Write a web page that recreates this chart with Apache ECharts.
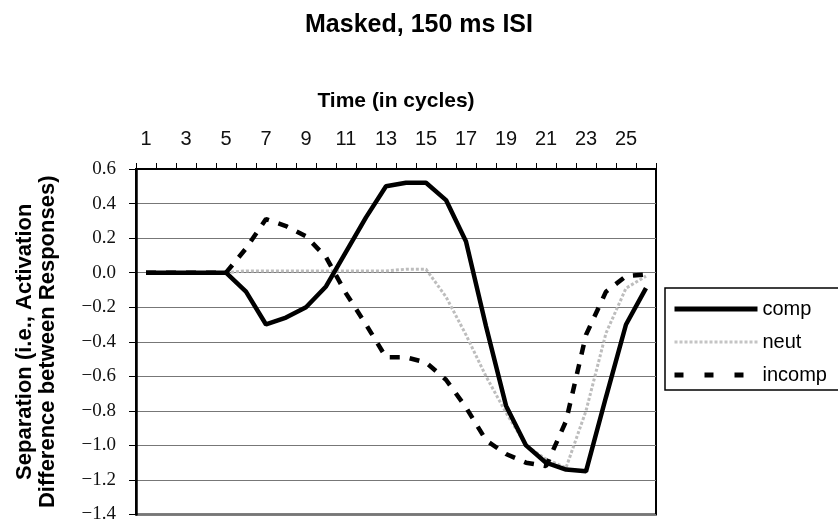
<!DOCTYPE html>
<html>
<head>
<meta charset="utf-8">
<script src="https://cdn.jsdelivr.net/npm/echarts@6/dist/echarts.min.js"></script>
<style>
  html, body { margin: 0; padding: 0; background: #fff; }
  #chart { width: 838px; height: 524px; }
</style>
</head>
<body>
<div id="chart"></div>
<script>
// time steps 1..26
const cycles = ['1','2','3','4','5','6','7','8','9','10','11','12','13','14','15','16','17','18','19','20','21','22','23','24','25','26']
const comp = [0, 0, 0, 0, 0, -0.11, -0.30, -0.26, -0.20, -0.08, 0.12, 0.32, 0.50, 0.52, 0.52, 0.42, 0.18, -0.31, -0.77, -1.00, -1.10, -1.14, -1.15, -0.72, -0.30, -0.09]
const neut = [0, 0, 0, 0, 0, 0.01, 0.01, 0.01, 0.01, 0.01, 0.01, 0.01, 0.01, 0.02, 0.02, -0.14, -0.36, -0.60, -0.81, -1.00, -1.08, -1.13, -0.80, -0.35, -0.09, -0.02]
const incomp = [0, 0, 0, 0, 0, 0.14, 0.31, 0.27, 0.21, 0.09, -0.12, -0.30, -0.49, -0.49, -0.52, -0.62, -0.78, -0.97, -1.05, -1.10, -1.12, -0.86, -0.36, -0.11, -0.02, -0.01]

const sans = 'Arial, Liberation Sans, sans-serif'
const chart = echarts.init(document.getElementById('chart'))
chart.setOption({
  animation: false,
  backgroundColor: '#fff',
  title: {
    text: 'Masked, 150 ms ISI',
    left: 'center',
    top: 8,
    textStyle: { fontFamily: sans, fontWeight: 'bold', fontSize: 25, color: '#000' }
  },
  legend: {
    orient: 'vertical',
    left: 665,
    top: 288,
    itemWidth: 83,
    itemHeight: 14,
    itemGap: 13,
    padding: [11, 40, 5, 7],
    borderColor: '#000',
    borderWidth: 1.5,
    data: [
      { name: 'comp', lineStyle: { width: 5, color: '#000' } },
      { name: 'neut', lineStyle: { width: 3, color: '#c4c4c4', type: [3, 2] } },
      { name: 'incomp', lineStyle: { width: 5, color: '#000', type: [9, 21] } }
    ],
    itemStyle: { opacity: 0 },
    textStyle: { fontFamily: sans, fontSize: 20, color: '#000' }
  },
  grid: {
    left: 136,
    right: 182,
    top: 169,
    bottom: 8,
    show: true,
    borderColor: '#000',
    borderWidth: 2
  },
  xAxis: {
    type: 'category',
    position: 'top',
    data: cycles,
    boundaryGap: true,
    name: 'Time (in cycles)',
    nameLocation: 'middle',
    nameGap: 57,
    nameTextStyle: { fontFamily: sans, fontWeight: 'bold', fontSize: 21, color: '#000' },
    axisLine: { show: true, onZero: false, lineStyle: { color: '#000', width: 2 } },
    axisTick: { show: true, interval: 0, length: 6, lineStyle: { color: '#000', width: 1 } },
    axisLabel: { interval: 1, margin: 20, fontFamily: sans, fontSize: 20, color: '#111' },
    splitLine: { show: false }
  },
  yAxis: {
    type: 'value',
    min: -1.4,
    max: 0.6,
    interval: 0.2,
    name: 'Separation (i.e., Activation\nDifference between Responses)',
    nameLocation: 'middle',
    nameGap: 77,
    nameTextStyle: { fontFamily: sans, fontWeight: 'bold', fontSize: 22, color: '#000', lineHeight: 23 },
    axisLine: { show: true, lineStyle: { color: '#000', width: 2.5 } },
    axisTick: { show: true, length: 7, lineStyle: { color: '#000' } },
    axisLabel: {
      margin: 20,
      fontFamily: 'Liberation Serif, Times New Roman, serif',
      fontSize: 19,
      color: '#111',
      formatter: v => v.toFixed(1).replace('-', '\u2212')
    },
    splitLine: { lineStyle: { color: '#777', width: 1 } }
  },
  series: [
    {
      name: 'comp',
      type: 'line',
      data: comp,
      symbol: 'none',
      z: 3,
      lineStyle: { color: '#000', width: 4.5 },
      itemStyle: { color: '#000' }
    },
    {
      name: 'neut',
      type: 'line',
      data: neut,
      symbol: 'none',
      z: 2,
      lineStyle: { color: '#bdbdbd', width: 3, type: [3, 2] },
      itemStyle: { color: '#bdbdbd' }
    },
    {
      name: 'incomp',
      type: 'line',
      data: incomp,
      symbol: 'none',
      z: 4,
      lineStyle: { color: '#000', width: 4.5, type: [10, 10] },
      itemStyle: { color: '#000' }
    }
  ]
})
</script>
</body>
</html>
